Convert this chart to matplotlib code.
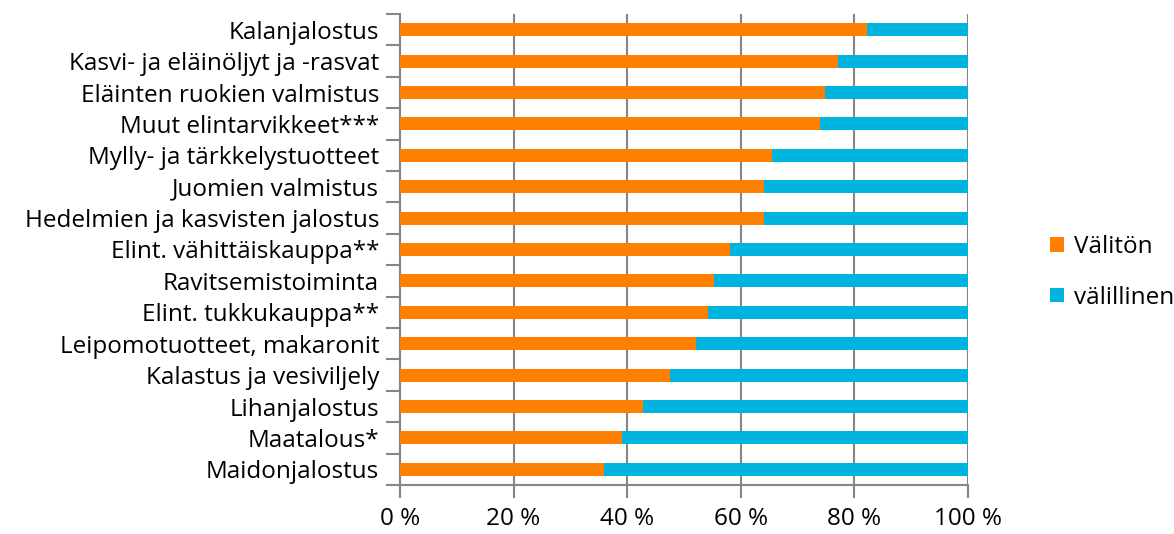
import matplotlib
matplotlib.use("Agg")
import matplotlib.pyplot as plt
import numpy as np

plt.rcParams['font.family'] = ['Open Sans', 'DejaVu Sans']

kategoriat = [
    "Kalanjalostus",
    "Kasvi- ja eläinöljyt ja -rasvat",
    "Eläinten ruokien valmistus",
    "Muut elintarvikkeet***",
    "Mylly- ja tärkkelystuotteet",
    "Juomien valmistus",
    "Hedelmien ja kasvisten jalostus",
    "Elint. vähittäiskauppa**",
    "Ravitsemistoiminta",
    "Elint. tukkukauppa**",
    "Leipomotuotteet, makaronit",
    "Kalastus ja vesiviljely",
    "Lihanjalostus",
    "Maatalous*",
    "Maidonjalostus",
]
valiton = [82.2, 77.2, 74.9, 73.9, 65.5, 64.1, 64.0, 58.1, 55.2, 54.2, 52.2, 47.5, 42.8, 39.1, 35.9]
valillinen = [100 - v for v in valiton]

oranssi = "#FF8000"
sininen = "#00B4E0"
harmaa = "#868686"
koko = 17.5

fig = plt.figure(figsize=(11.74, 5.34), dpi=100)
ax = fig.add_axes([400 / 1174, 49 / 534, 568 / 1174, 471 / 534])

y = np.arange(len(kategoriat))[::-1]
ax.barh(y, valiton, height=0.41, color=oranssi, label="Välitön", zorder=3)
ax.barh(y, valillinen, left=valiton, height=0.41, color=sininen, label="välillinen", zorder=3)

ax.set_xlim(0, 100)
ax.set_ylim(-0.5, len(kategoriat) - 0.5)
ax.set_xticks(np.arange(0, 101, 20))
ax.set_xticklabels([f"{t} %" for t in range(0, 101, 20)], fontsize=koko)
ax.set_yticks(y)
ax.set_yticklabels(kategoriat, fontsize=koko)
ax.set_yticks(np.arange(-0.5, len(kategoriat), 1), minor=True)
ax.tick_params(axis='y', which='major', length=0, pad=15)
ax.tick_params(axis='y', which='minor', length=10, color=harmaa, width=1.5)
ax.tick_params(axis='x', length=9, color=harmaa, width=1.5, pad=7)

ax.grid(axis='x', color=harmaa, linewidth=1.5, zorder=0)
for s in ['top', 'right']:
    ax.spines[s].set_visible(False)
for s in ['left', 'bottom']:
    ax.spines[s].set_color(harmaa)
    ax.spines[s].set_linewidth(1.5)

handles, labels = ax.get_legend_handles_labels()
fig.legend(handles, labels, loc='center left', bbox_to_anchor=(1038 / 1174, 0.49),
           frameon=False, fontsize=koko, handlelength=0.55, handleheight=0.55,
           handletextpad=0.45, labelspacing=1.1, borderpad=0)

fig.savefig("out.png", dpi=100)
